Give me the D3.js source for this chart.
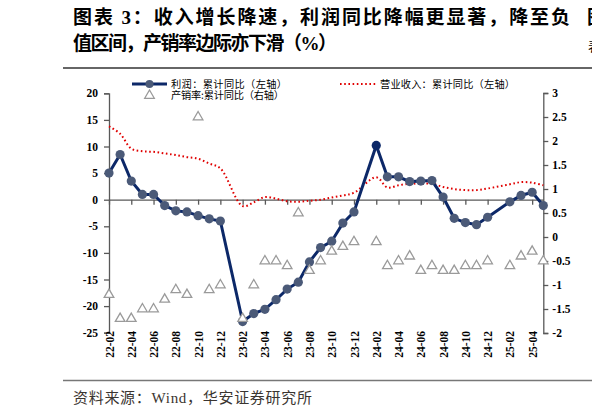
<!DOCTYPE html>
<html>
<head>
<meta charset="utf-8">
<script src="https://cdn.jsdelivr.net/npm/d3@7"></script>
<style>
  body { margin: 0; background: white; }
  svg { display: block; }
  .axis text { font-family: "Liberation Serif", "Times New Roman", serif; font-weight: bold; font-size: 11.5px; fill: #000; }
  .axis path, .axis line { stroke: #595959; stroke-width: 1.3px; }
  .lg { font-family: "Noto Sans CJK SC", sans-serif; font-size: 10.2px; fill: #000; }
</style>
</head>
<body>
<div id="chart"></div>
<script>
// months, Jan is kept as an empty slot (Jan-Feb reported together)
var months = ["22-02","22-03","22-04","22-05","22-06","22-07","22-08","22-09","22-10","22-11","22-12",
  "23-01","23-02","23-03","23-04","23-05","23-06","23-07","23-08","23-09","23-10","23-11","23-12",
  "24-01","24-02","24-03","24-04","24-05","24-06","24-07","24-08","24-09","24-10","24-11","24-12",
  "25-01","25-02","25-03","25-04","25-05"];
var tickMonths = ["22-02","22-04","22-06","22-08","22-10","22-12","23-02","23-04","23-06","23-08","23-10","23-12",
  "24-02","24-04","24-06","24-08","24-10","24-12","25-02","25-04"];

// 利润：累计同比（左轴）
var profit = [5.0, 8.5, 3.5, 1.0, 1.0, -1.1, -2.1, -2.3, -3.0, -3.6, -4.0,
  null, -22.9, -21.4, -20.6, -18.8, -16.8, -15.5, -11.7, -9.0, -7.8, -4.4, -2.3,
  null, 10.2, 4.3, 4.3, 3.4, 3.5, 3.6, 0.5, -3.5, -4.3, -4.7, -3.3,
  null, -0.4, 0.8, 1.4, -1.1];
// 营业收入：累计同比（左轴）
var revenue = [13.8, 12.4, 9.6, 9.1, 9.0, 8.7, 8.4, 8.0, 7.7, 6.8, 5.9,
  null, -1.2, -0.5, 0.5, 0.2, -0.3, -0.4, -0.2, 0.0, 0.4, 0.8, 1.3,
  null, 4.2, 2.3, 2.7, 3.0, 3.0, 3.0, 2.4, 2.0, 1.8, 1.8, 2.1,
  null, 2.9, 3.3, 3.2, 2.7];
// 产销率：累计同比（右轴）
var ratio = [-1.2, -1.7, -1.7, -1.5, -1.5, -1.3, -1.1, -1.2, 2.5, -1.1, -1.0,
  null, -1.7, -1.0, -0.5, -0.5, -0.6, 0.5, -0.7, -0.5, -0.3, -0.2, -0.1,
  null, -0.1, -0.6, -0.5, -0.4, -0.7, -0.6, -0.7, -0.7, -0.6, -0.6, -0.5,
  null, -0.6, -0.4, -0.3, -0.5];

var leftTicks = [-25, -20, -15, -10, -5, 0, 5, 10, 15, 20];
var rightTicks = [-2, -1.5, -1, -0.5, 0, 0.5, 1, 1.5, 2, 2.5, 3];

var width = 592, height = 417;

var svg = d3.select("#chart").append("svg")
  .attr("width", width)
  .attr("height", height);

// title block
var title = svg.append("g")
  .style("font-family", "'Liberation Serif', 'Noto Sans CJK SC', serif")
  .style("font-weight", "bold")
  .style("font-size", "19px");
title.append("text").attr("x", 73).attr("y", 24)
  .attr("textLength", 497).attr("lengthAdjust", "spacing")
  .text("图表 3：收入增长降速，利润同比降幅更显著，降至负");
title.append("text").attr("x", 73).attr("y", 50)
  .attr("textLength", 264).attr("lengthAdjust", "spacing")
  .text("值区间，产销率边际亦下滑（%）");
// next column's title, cut by the page edge
title.append("text").attr("x", 587).attr("y", 24).text("图");
svg.append("text").attr("x", 588).attr("y", 51)
  .style("font-family", "'Noto Sans CJK SC'").style("font-size", "13px").text("表");

svg.append("line").attr("x1", 63).attr("x2", width).attr("y1", 68).attr("y2", 68)
  .attr("stroke", "#333").attr("stroke-width", 1.5);
svg.append("line").attr("x1", 63).attr("x2", width).attr("y1", 380.5).attr("y2", 380.5)
  .attr("stroke", "#777").attr("stroke-width", 1.5);
svg.append("text").attr("x", 73).attr("y", 403)
  .attr("textLength", 239).attr("lengthAdjust", "spacing")
  .style("font-family", "'Liberation Serif', 'Noto Sans CJK SC', serif")
  .style("font-size", "15px").style("fill", "#3a3530")
  .text("资料来源：Wind，华安证券研究所");

// scales
var x = d3.scalePoint().domain(months).range([109, 543.3]);
var yL = d3.scaleLinear().domain([-25, 20]).range([332.7, 93.3]);
var yR = d3.scaleLinear().domain([-2, 3]).range([333, 93]);

// axes
svg.append("g").attr("class", "axis")
  .attr("transform", "translate(109,0)")
  .call(d3.axisLeft(yL).tickValues(leftTicks).tickSize(5).tickPadding(6).tickFormat(function (d) { return String(d); }));

svg.append("g").attr("class", "axis")
  .attr("transform", "translate(543.3,0)")
  .call(d3.axisRight(yR).tickValues(rightTicks).tickSize(5).tickPadding(4).tickFormat(function (d) { return String(d); }));

svg.append("g").attr("class", "axis")
  .attr("transform", "translate(0," + yL(0) + ")")
  .call(d3.axisBottom(x).tickValues(tickMonths).tickSize(5).tickSizeOuter(0).tickFormat(""));

svg.append("g").attr("class", "axis")
  .attr("transform", "translate(0,331)")
  .call(d3.axisBottom(x).tickValues(tickMonths).tickSize(0).tickPadding(0))
  .call(function (g) { g.select(".domain").remove(); })
  .selectAll("text")
  .attr("transform", "rotate(-90)")
  .attr("x", 0).attr("y", 0).attr("dy", "0.35em")
  .style("text-anchor", "end");

// lines
var revPts = months.map(function (m, i) { return [m, revenue[i]]; }).filter(function (d) { return d[1] != null; });
var proPts = months.map(function (m, i) { return [m, profit[i]]; }).filter(function (d) { return d[1] != null; });
var ratPts = months.map(function (m, i) { return [m, ratio[i]]; }).filter(function (d) { return d[1] != null; });

var revLine = d3.line()
  .x(function (d) { return x(d[0]); })
  .y(function (d) { return yL(d[1]); })
  .curve(d3.curveCatmullRom.alpha(0.5));

svg.append("path").datum(revPts)
  .attr("d", revLine)
  .attr("fill", "none")
  .attr("stroke", "#e00000")
  .attr("stroke-width", 2)
  .attr("stroke-dasharray", "1.6,2.6");

var proLine = d3.line()
  .x(function (d) { return x(d[0]); })
  .y(function (d) { return yL(d[1]); });

svg.append("path").datum(proPts)
  .attr("d", proLine)
  .attr("fill", "none")
  .attr("stroke", "#0c2868")
  .attr("stroke-width", 3);

svg.selectAll(".pm").data(proPts).enter()
  .append("circle")
  .attr("class", "pm")
  .attr("cx", function (d) { return x(d[0]); })
  .attr("cy", function (d) { return yL(d[1]); })
  .attr("r", 4.6)
  .attr("fill", function (d) { return d[0] === "24-02" ? "#0c2868" : "#4b5a78"; });

var tri = d3.symbol().type(d3.symbolTriangle).size(40);
svg.selectAll(".rm").data(ratPts).enter()
  .append("path")
  .attr("class", "rm")
  .attr("d", tri)
  .attr("transform", function (d) { return "translate(" + x(d[0]) + "," + yR(d[1]) + ")"; })
  .attr("fill", "white")
  .attr("stroke", "#9a9a9a")
  .attr("stroke-width", 1.3);

// legend
var lg = svg.append("g");
lg.append("line").attr("x1", 132).attr("x2", 167).attr("y1", 84).attr("y2", 84)
  .attr("stroke", "#0c2868").attr("stroke-width", 3);
lg.append("circle").attr("cx", 149.5).attr("cy", 84).attr("r", 4).attr("fill", "#4b5a78");
lg.append("text").attr("class", "lg").attr("x", 171).attr("y", 87.5)
  .attr("textLength", 116).attr("lengthAdjust", "spacing").text("利润：累计同比（左轴）");
lg.append("path").attr("d", tri).attr("transform", "translate(149.5,95.5)")
  .attr("fill", "white").attr("stroke", "#9a9a9a").attr("stroke-width", 1.3);
lg.append("text").attr("class", "lg").attr("x", 171).attr("y", 99)
  .attr("textLength", 113).attr("lengthAdjust", "spacing").text("产销率:累计同比（右轴）");
lg.append("line").attr("x1", 340).attr("x2", 376).attr("y1", 84).attr("y2", 84)
  .attr("stroke", "#e00000").attr("stroke-width", 2).attr("stroke-dasharray", "1.6,2.6");
lg.append("text").attr("class", "lg").attr("x", 380).attr("y", 87.5)
  .attr("textLength", 135).attr("lengthAdjust", "spacing").text("营业收入：累计同比（左轴）");
</script>
</body>
</html>
